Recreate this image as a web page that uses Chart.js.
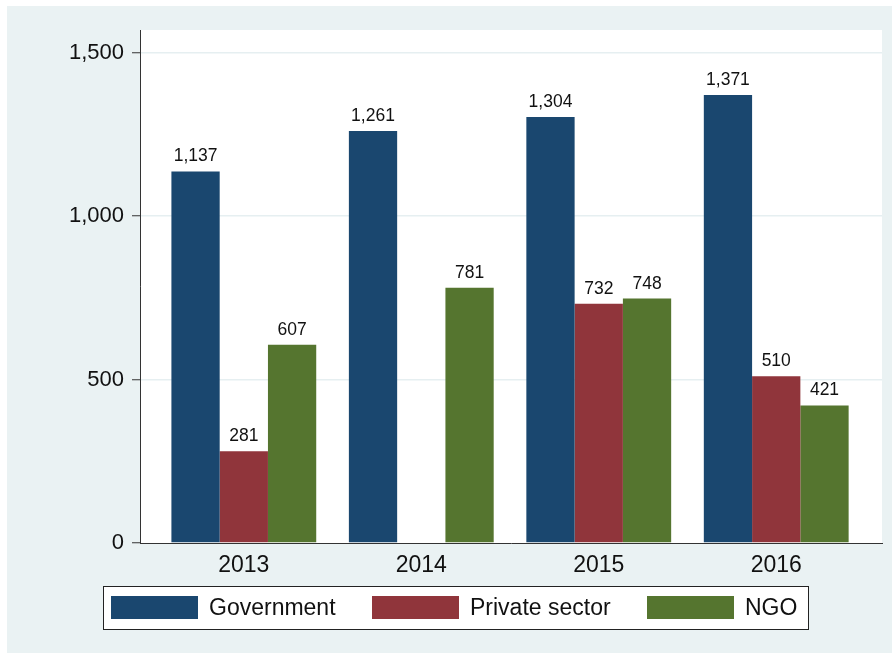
<!DOCTYPE html>
<html>
<head>
<meta charset="utf-8">
<script src="https://cdn.jsdelivr.net/npm/chart.js@4/dist/chart.umd.min.js"></script>
<style>
  html, body { margin: 0; padding: 0; background: #ffffff; }
  #wrap { width: 892px; height: 653px; }
</style>
</head>
<body>
<div id="wrap"><canvas id="c" width="892" height="653"></canvas></div>
<script>
const years = [2013, 2014, 2015, 2016];
const government = [1137, 1261, 1304, 1371];
const privateSector = [281, null, 732, 510];
const ngo = [607, 781, 748, 421];
const yTicks = [0, 500, 1000, 1500];
const seriesNames = ['Government', 'Private sector', 'NGO'];
const seriesColors = ['#1a476f', '#90353b', '#55752f'];

const FONT = '"Liberation Sans", Arial, Helvetica, sans-serif';
const fmt = v => v.toLocaleString('en-US');

const toPoints = arr => years.map((y, i) => ({ x: y, y: arr[i] }));

const bgPlugin = {
  id: 'bg',
  beforeDraw(chart) {
    const ctx = chart.ctx, a = chart.chartArea;
    ctx.save();
    ctx.fillStyle = '#ffffff';
    ctx.fillRect(0, 0, chart.width, chart.height);
    ctx.fillStyle = '#eaf2f3';
    ctx.fillRect(7, 6, chart.width - 7, chart.height - 6);
    ctx.fillStyle = '#ffffff';
    ctx.fillRect(a.left, a.top, a.right - a.left, a.bottom - a.top);
    ctx.restore();
  }
};

const labelPlugin = {
  id: 'vlabels',
  afterDatasetsDraw(chart) {
    const ctx = chart.ctx;
    ctx.save();
    ctx.font = '17.5px ' + FONT;
    ctx.fillStyle = '#111111';
    ctx.textAlign = 'center';
    ctx.textBaseline = 'alphabetic';
    chart.data.datasets.forEach((ds, di) => {
      const meta = chart.getDatasetMeta(di);
      meta.data.forEach((el, i) => {
        const v = ds.data[i].y;
        if (v === null || v === undefined) return;
        ctx.fillText(fmt(v), el.x, el.y - 10);
      });
    });
    ctx.restore();
  }
};

const legendPlugin = {
  id: 'boxlegend',
  afterDraw(chart) {
    const ctx = chart.ctx;
    ctx.save();
    const bx = 103.5, by = 586.5, bw = 705, bh = 43;
    ctx.fillStyle = '#ffffff';
    ctx.fillRect(bx, by, bw, bh);
    ctx.strokeStyle = '#222222';
    ctx.lineWidth = 1;
    ctx.strokeRect(bx, by, bw, bh);
    const swatchX = [111, 372, 647];
    const sw = 87, sh = 23, sy = 596;
    ctx.font = '23px ' + FONT;
    ctx.textAlign = 'left';
    ctx.textBaseline = 'middle';
    chart.data.datasets.forEach((ds, i) => {
      ctx.fillStyle = ds.backgroundColor;
      ctx.fillRect(swatchX[i], sy, sw, sh);
      ctx.fillStyle = '#111111';
      ctx.fillText(ds.label, swatchX[i] + sw + 11, sy + sh / 2 + 1);
    });
    ctx.restore();
  }
};

const datasets = [government, privateSector, ngo].map((arr, i) => ({
  label: seriesNames[i],
  data: toPoints(arr),
  backgroundColor: seriesColors[i],
  borderWidth: 0,
  categoryPercentage: 0.816,
  barPercentage: 1.0
}));

new Chart(document.getElementById('c'), {
  type: 'bar',
  data: { datasets },
  plugins: [bgPlugin, labelPlugin, legendPlugin],
  options: {
    responsive: false,
    animation: false,
    devicePixelRatio: 1,
    layout: { padding: { top: 30, right: 10, bottom: 0, left: 0 } },
    plugins: { legend: { display: false }, tooltip: { enabled: false } },
    scales: {
      x: {
        type: 'linear',
        offset: false,
        min: 2012.415,
        max: 2016.596,
        afterBuildTicks(scale) { scale.ticks = years.map(v => ({ value: v })); },
        afterFit(scale) { scale.height = 110; },
        grid: { display: false, drawTicks: false, offset: false },
        border: { display: true, color: '#333333', width: 1 },
        ticks: {
          callback: v => String(v),
          font: { family: FONT, size: 23 },
          color: '#111111',
          padding: 9,
          maxRotation: 0,
          autoSkip: false
        }
      },
      y: {
        min: 0,
        max: 1570,
        afterBuildTicks(scale) { scale.ticks = yTicks.map(v => ({ value: v })); },
        afterFit(scale) { scale.width = 140; },
        grid: {
          color: ctx => ctx.tick && ctx.tick.value === 0 ? 'rgba(0,0,0,0)' : '#e6eff1',
          lineWidth: 1.5,
          drawTicks: true,
          tickLength: 8,
          tickColor: '#333333',
          tickWidth: 1
        },
        border: { display: true, color: '#333333', width: 1 },
        ticks: {
          callback: v => fmt(v),
          font: { family: FONT, size: 22 },
          color: '#111111',
          padding: 8
        }
      }
    }
  }
});
</script>
</body>
</html>
